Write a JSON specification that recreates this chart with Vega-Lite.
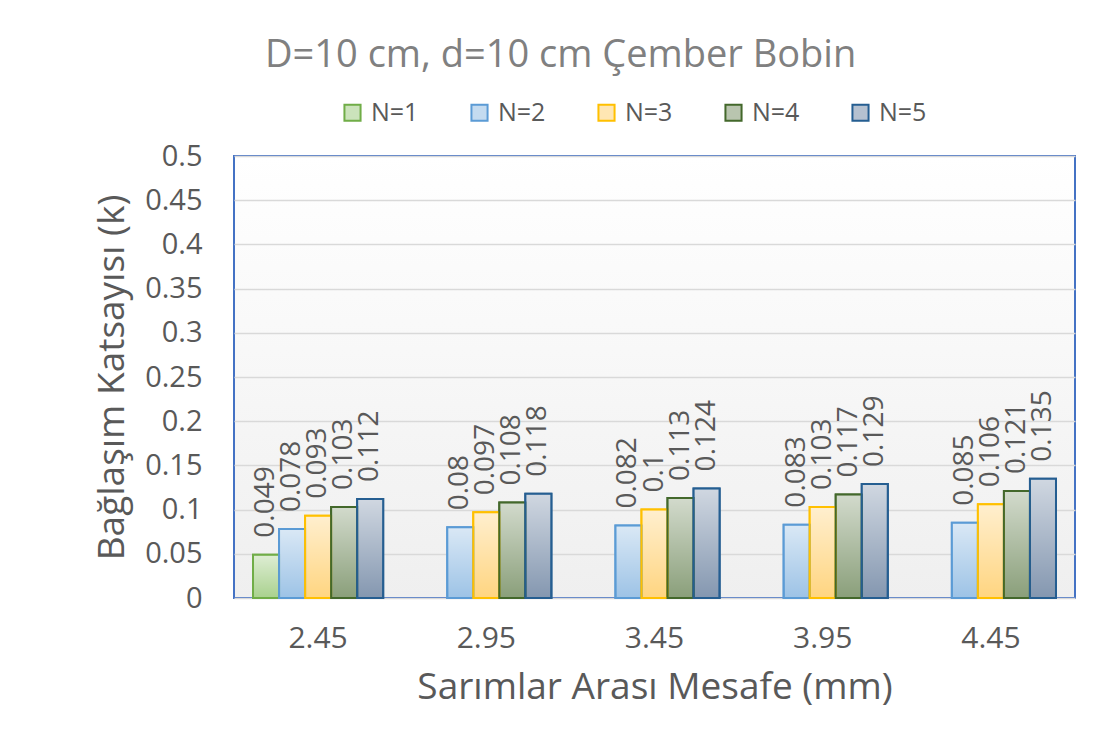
{
  "$schema": "https://vega.github.io/schema/vega-lite/v6.json",
  "width": 841,
  "height": 442,
  "autosize": "none",
  "padding": {"left": 234, "top": 156, "right": 27, "bottom": 138},
  "background": "white",
  "title": {
    "text": "D=10 cm, d=10 cm Çember Bobin",
    "anchor": "start",
    "frame": "group",
    "dx": 31,
    "offset": 25,
    "fontSize": 38,
    "font": "Open Sans",
    "fontWeight": "normal",
    "color": "#808080"
  },
  "config": {
    "font": "Open Sans",
    "view": {
      "stroke": "#4472C4",
      "strokeWidth": 2,
      "fill": {
        "gradient": "linear", "x1": 0, "y1": 0, "x2": 0, "y2": 1,
        "stops": [{"offset": 0, "color": "#ffffff"}, {"offset": 1, "color": "#efefef"}]
      }
    }
  },
  "data": {
    "values": [
      {"x": "2.45", "N": "N=1", "k": 0.049},
      {"x": "2.45", "N": "N=2", "k": 0.078},
      {"x": "2.45", "N": "N=3", "k": 0.093},
      {"x": "2.45", "N": "N=4", "k": 0.103},
      {"x": "2.45", "N": "N=5", "k": 0.112},
      {"x": "2.95", "N": "N=2", "k": 0.08},
      {"x": "2.95", "N": "N=3", "k": 0.097},
      {"x": "2.95", "N": "N=4", "k": 0.108},
      {"x": "2.95", "N": "N=5", "k": 0.118},
      {"x": "3.45", "N": "N=2", "k": 0.082},
      {"x": "3.45", "N": "N=3", "k": 0.1},
      {"x": "3.45", "N": "N=4", "k": 0.113},
      {"x": "3.45", "N": "N=5", "k": 0.124},
      {"x": "3.95", "N": "N=2", "k": 0.083},
      {"x": "3.95", "N": "N=3", "k": 0.103},
      {"x": "3.95", "N": "N=4", "k": 0.117},
      {"x": "3.95", "N": "N=5", "k": 0.129},
      {"x": "4.45", "N": "N=2", "k": 0.085},
      {"x": "4.45", "N": "N=3", "k": 0.106},
      {"x": "4.45", "N": "N=4", "k": 0.121},
      {"x": "4.45", "N": "N=5", "k": 0.135}
    ]
  },
  "encoding": {
    "x": {
      "field": "x", "type": "nominal",
      "scale": {"paddingInner": 0.226, "paddingOuter": 0.113},
      "axis": {
        "title": "Sarımlar Arası Mesafe (mm)",
        "labelAngle": 0,
        "labelFontSize": 30,
        "labelColor": "#595959",
        "labelPadding": 25,
        "ticks": false,
        "domain": false,
        "titleFontSize": 37,
        "titleFontWeight": "normal",
        "titleColor": "#595959",
        "titlePadding": 16
      }
    },
    "xOffset": {
      "field": "N", "type": "nominal",
      "scale": {"domain": ["N=1", "N=2", "N=3", "N=4", "N=5"], "paddingInner": 0, "paddingOuter": 0}
    },
    "y": {
      "field": "k", "type": "quantitative",
      "scale": {"domain": [0, 0.5], "nice": false},
      "axis": {
        "title": "Bağlaşım Katsayısı (k)",
        "values": [0, 0.05, 0.1, 0.15, 0.2, 0.25, 0.3, 0.35, 0.4, 0.45, 0.5],
        "format": ".2~f",
        "labelFontSize": 29,
        "labelColor": "#595959",
        "labelPadding": 32,
        "ticks": false,
        "domain": false,
        "gridColor": "#d9d9d9",
        "gridWidth": 1.5,
        "titleFontSize": 37,
        "titleFontWeight": "normal",
        "titleColor": "#595959",
        "titlePadding": 13
      }
    }
  },
  "layer": [
    {
      "mark": {"type": "bar", "strokeWidth": 2},
      "encoding": {
        "fill": {
          "field": "N", "type": "nominal",
          "scale": {"domain": ["N=1", "N=2", "N=3", "N=4", "N=5"], "range": ["#a9d18e", "#9dc3e6", "#ffd580", "#8a9f7a", "#8497b0"]},
          "legend": {
            "title": null,
            "orient": "none",
            "legendX": 106,
            "legendY": -56,
            "direction": "horizontal",
            "symbolType": "square",
            "symbolSize": 260,
            "symbolStrokeWidth": 2,
            "labelFontSize": 25,
            "labelColor": "#595959",
            "labelOffset": 6,
            "columnPadding": 48,
            "gridAlign": "each",
            "encode": {"symbols": {"update": {"fillOpacity": {"value": 0.6}}}}
          }
        },
        "stroke": {
          "field": "N", "type": "nominal",
          "scale": {"domain": ["N=1", "N=2", "N=3", "N=4", "N=5"], "range": ["#70ad47", "#5b9bd5", "#ffc000", "#43682b", "#255e91"]},
          "legend": null
        }
      }
    },
    {
      "mark": {
        "type": "bar",
        "fill": {
          "gradient": "linear", "x1": 0, "y1": 0, "x2": 0, "y2": 1,
          "stops": [{"offset": 0, "color": "rgba(255,255,255,0.62)"}, {"offset": 1, "color": "rgba(255,255,255,0)"}]
        }
      }
    },
    {
      "mark": {"type": "bar", "fillOpacity": 0, "strokeWidth": 2},
      "encoding": {
        "stroke": {"field": "N", "type": "nominal", "legend": null}
      }
    },
    {
      "mark": {"type": "text", "angle": 270, "align": "left", "baseline": "middle", "dx": 17, "fontSize": 28, "color": "#595959"},
      "encoding": {
        "text": {"field": "k", "type": "quantitative", "format": "~g"}
      }
    }
  ]
}
